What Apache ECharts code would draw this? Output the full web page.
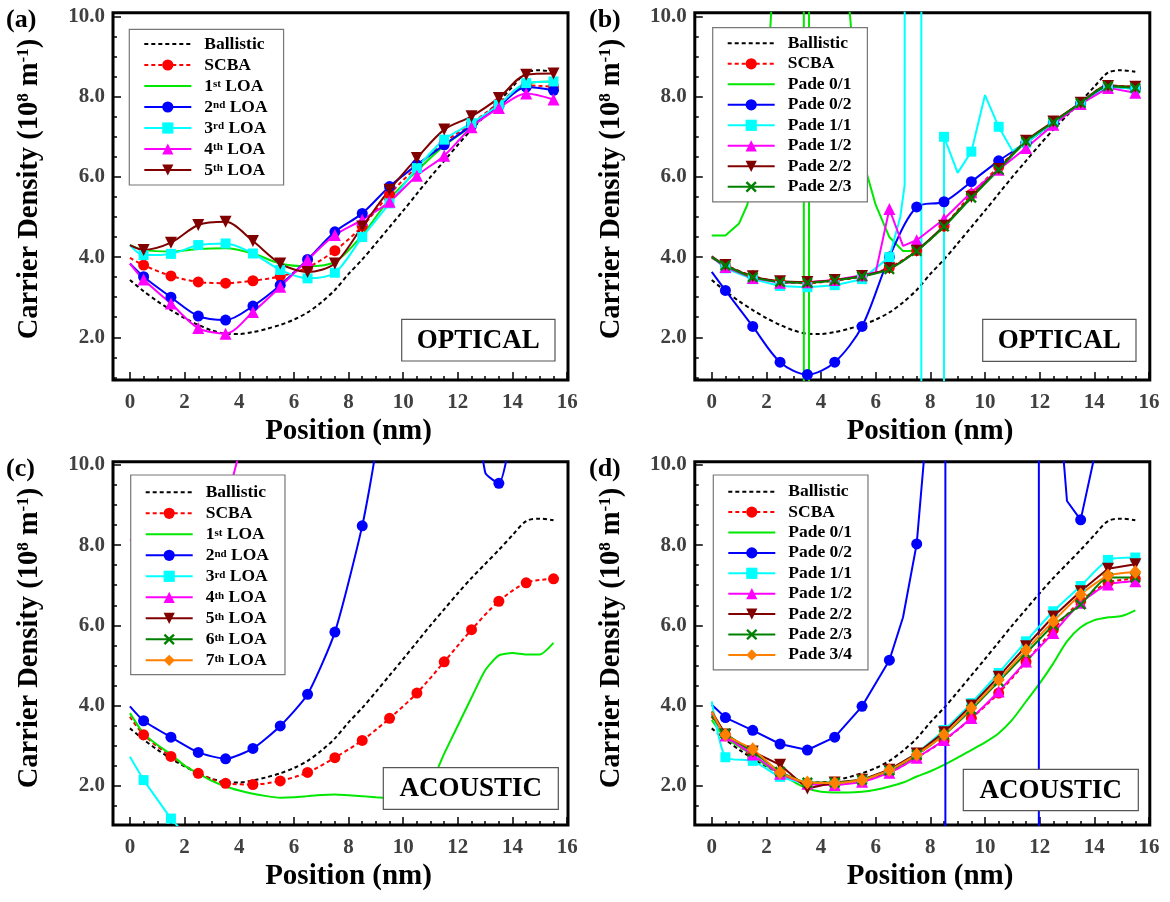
<!DOCTYPE html>
<html>
<head>
<meta charset="utf-8">
<script src="https://cdn.jsdelivr.net/npm/echarts@6/dist/echarts.min.js"></script>
<style>
  html, body { margin: 0; padding: 0; background: #fff; }
  #chart { width: 1170px; height: 902px; }
</style>
</head>
<body>
<div id="chart"></div>
<script>
// positions (nm): marker grid and the finer grid used by the smooth curves
const posM = [0, 0.5, 1.5, 2.5, 3.5, 4.5, 5.5, 6.5, 7.5, 8.5, 9.5, 10.5, 11.5, 12.5, 13.5, 14.5, 15.5];
const posF = [0, 0.5, 1, 1.5, 2, 2.5, 3, 3.5, 4, 4.5, 5, 5.5, 6, 6.5, 7, 7.5, 8, 8.5, 9, 9.5, 10, 10.5, 11, 11.5, 12, 12.5, 13, 13.5, 14, 14.5, 15, 15.5];

const xLabels = [0, 2, 4, 6, 8, 10, 12, 14, 16];
const yLabels = [2, 4, 6, 8, 10];

// ballistic (same in every panel), on posF
const ballistic = [3.43, 3.15, 2.90, 2.68, 2.48, 2.31, 2.17, 2.09, 2.08, 2.13, 2.21, 2.31, 2.44, 2.62, 2.87, 3.18, 3.58, 3.94, 4.34, 4.75, 5.16, 5.58, 6.00, 6.40, 6.80, 7.18, 7.53, 7.88, 8.25, 8.60, 8.66, 8.62];

// (a) optical, LOA orders, on posM
const optScba = [3.98, 3.80, 3.53, 3.38, 3.35, 3.41, 3.52, 3.74, 4.16, 4.77, 5.57, 6.25, 6.86, 7.33, 7.84, 8.28, 8.25];
const optLoa1 = [4.30, 4.18, 4.14, 4.20, 4.22, 4.09, 3.84, 3.77, 3.88, 4.55, 5.45, 6.15, 6.78, 7.26, 7.78, 8.32, 8.38];
const optLoa2 = [3.84, 3.51, 3.00, 2.53, 2.43, 2.78, 3.30, 3.94, 4.63, 5.09, 5.76, 6.30, 6.80, 7.28, 7.76, 8.24, 8.16];
const optLoa3 = [4.30, 4.05, 4.08, 4.30, 4.34, 4.09, 3.68, 3.47, 3.61, 4.50, 5.34, 6.22, 6.93, 7.34, 7.80, 8.34, 8.38];
const optLoa4 = [3.84, 3.44, 2.84, 2.23, 2.09, 2.63, 3.26, 3.93, 4.55, 4.93, 5.38, 6.03, 6.53, 7.24, 7.72, 8.08, 7.93];
const optLoa5 = [4.30, 4.18, 4.36, 4.80, 4.88, 4.40, 3.84, 3.63, 3.84, 4.76, 5.68, 6.47, 7.18, 7.51, 7.97, 8.55, 8.58];

// (b) optical, Pade approximants ([x, y] where the curve leaves the frame)
const optPade01 = [[0, 4.54], [0.5, 4.54], [1, 4.84], [1.3, 5.3], [1.5, 6.0], [2, 8.0], [2.5, 14], [3, 30], [3.36, 300], [3.38, -300], [3.55, -300], [3.57, 300], [4, 30], [4.5, 16], [5, 10.5], [5.5, 6.5], [6, 5.3], [6.5, 4.5], [7, 4.15], [7.5, 4.15], [8.5, 4.75], [9.5, 5.5], [10.5, 6.2], [11.5, 6.88], [12.5, 7.36], [13.5, 7.85], [14.5, 8.27], [15.5, 8.24]];
const optPade02 = [3.63, 3.17, 2.27, 1.38, 1.07, 1.38, 2.27, 4.00, 5.25, 5.38, 5.88, 6.40, 6.85, 7.35, 7.82, 8.25, 8.20];
const optPade11 = [[0, 4.0], [0.5, 3.72], [1.5, 3.45], [2.5, 3.28], [3.5, 3.25], [4.5, 3.3], [5.5, 3.45], [6.5, 4.0], [6.9, 5.0], [7.06, 5.8], [7.07, 300], [7.66, 300], [7.68, -300], [8.47, -300], [8.5, 7.0], [9, 6.1], [9.5, 6.63], [10, 8.04], [10.5, 7.25], [11, 6.65], [11.5, 6.85], [12.5, 7.35], [13.5, 7.82], [14.5, 8.25], [15.5, 8.2]];
const optPade12 = [[0, 4.0], [0.5, 3.75], [1.5, 3.48], [2.5, 3.36], [3.5, 3.37], [4.5, 3.43], [5.5, 3.55], [6, 3.62], [6.5, 5.2], [7, 4.28], [7.5, 4.42], [8.5, 4.95], [9.5, 5.62], [10.5, 6.18], [11.5, 6.72], [12.5, 7.3], [13.5, 7.82], [14.5, 8.22], [15.5, 8.1]];
const optPade22 = [4.02, 3.80, 3.52, 3.40, 3.38, 3.43, 3.53, 3.72, 4.16, 4.78, 5.50, 6.20, 6.90, 7.38, 7.85, 8.27, 8.25];
const optPade23 = [4.00, 3.79, 3.50, 3.38, 3.36, 3.42, 3.52, 3.70, 4.15, 4.76, 5.48, 6.18, 6.88, 7.36, 7.84, 8.26, 8.22];

// (c) acoustic, LOA orders
const acScba = [3.72, 3.27, 2.73, 2.31, 2.06, 2.03, 2.12, 2.33, 2.70, 3.13, 3.68, 4.31, 5.09, 5.89, 6.60, 7.06, 7.16];
const acLoa1 = [3.81, 3.30, 3.02, 2.78, 2.50, 2.30, 2.12, 1.98, 1.88, 1.80, 1.74, 1.70, 1.71, 1.74, 1.77, 1.78, 1.76, 1.74, 1.71, 1.69, 1.68, 1.72, 2.05, 2.80, 3.50, 4.20, 4.88, 5.25, 5.31, 5.27, 5.27, 5.56];
const acLoa2 = [[0, 3.98], [0.5, 3.62], [1.5, 3.21], [2.5, 2.83], [3.5, 2.67], [4.5, 2.93], [5.5, 3.49], [6.5, 4.28], [7.5, 5.83], [8.5, 8.48], [9, 10.4], [9.5, 14], [10.5, 25], [11.5, 25], [12.5, 12.7], [13, 9.81], [13.5, 9.54], [14, 11.1], [14.5, 20], [15.5, 30]];
const acLoa3 = [[0, 2.72], [0.5, 2.14], [1.5, 1.18], [2, 0.8], [2.5, -1]];
const acLoa4 = [[0, 8.14], [0.5, 8.0], [1.5, 7.8], [2.5, 8.1], [3.5, 9.0], [4, 10.3], [4.5, 14], [5, 20]];
const acLoa5 = [];
const acLoa6 = [];
const acLoa7 = [];

// (d) acoustic, Pade approximants
const acPade01 = [3.64, 3.20, 2.98, 2.76, 2.50, 2.31, 2.10, 1.93, 1.85, 1.83, 1.83, 1.85, 1.90, 1.98, 2.08, 2.23, 2.36, 2.52, 2.70, 2.89, 3.08, 3.31, 3.65, 4.10, 4.55, 5.05, 5.60, 5.95, 6.13, 6.20, 6.23, 6.37];
const acPade02 = [[0, 4.02], [0.5, 3.70], [1.5, 3.38], [2.5, 3.04], [3.5, 2.89], [4.5, 3.21], [5.5, 3.98], [6.5, 5.13], [7, 6.2], [7.5, 8.03], [8, 12], [8.5, 40], [8.54, 300], [8.56, -300], [11.96, -300], [11.98, 300], [12.5, 13.3], [13, 9.1], [13.5, 8.63], [14, 10.2], [14.5, 14], [15.5, 25]];
const acPade11 = [4.10, 2.71, 2.62, 2.22, 2.06, 2.05, 2.14, 2.40, 2.82, 3.39, 4.06, 4.81, 5.60, 6.35, 6.98, 7.63, 7.69];
const acPade12 = [3.80, 3.25, 2.78, 2.30, 2.05, 2.02, 2.10, 2.32, 2.70, 3.14, 3.69, 4.35, 5.10, 5.81, 6.56, 7.02, 7.10];
const acPade22 = [3.85, 3.28, 2.85, 2.52, 1.93, 2.08, 2.15, 2.40, 2.80, 3.33, 4.00, 4.72, 5.48, 6.22, 6.85, 7.41, 7.52];
const acPade23 = [3.75, 3.30, 2.85, 2.35, 2.08, 2.08, 2.15, 2.38, 2.77, 3.27, 3.90, 4.60, 5.30, 6.00, 6.52, 7.19, 7.19];
const acPade34 = [3.85, 3.27, 2.91, 2.33, 2.08, 2.07, 2.14, 2.39, 2.78, 3.27, 3.94, 4.64, 5.38, 6.10, 6.77, 7.24, 7.33];

const FONT = 'Liberation Serif';
const GREY = '#404040';
const cross = 'path://M0,1.5L1.5,0L5,3.5L8.5,0L10,1.5L6.5,5L10,8.5L8.5,10L5,6.5L1.5,10L0,8.5L3.5,5Z';

const STY = {
  'Ballistic': { color: '#000000', dash: [4, 3], symbol: 'none' },
  'SCBA':      { color: '#ff0000', dash: [4, 3], symbol: 'circle', size: 11 },
  '1st LOA':   { color: '#00e800', symbol: 'none' },
  '2nd LOA':   { color: '#0000ff', symbol: 'circle', size: 11 },
  '3rd LOA':   { color: '#00ffff', symbol: 'rect', size: 10 },
  '4th LOA':   { color: '#ff00ff', symbol: 'triangle', size: 12 },
  '5th LOA':   { color: '#800000', symbol: 'triangle', size: 12, rotate: 180 },
  '6th LOA':   { color: '#008000', symbol: cross, size: 11 },
  '7th LOA':   { color: '#ff8000', symbol: 'diamond', size: [12, 14] }
};
STY['Pade 0/1'] = STY['1st LOA'];
STY['Pade 0/2'] = STY['2nd LOA'];
STY['Pade 1/1'] = STY['3rd LOA'];
STY['Pade 1/2'] = STY['4th LOA'];
STY['Pade 2/2'] = STY['5th LOA'];
STY['Pade 2/3'] = STY['6th LOA'];
STY['Pade 3/4'] = STY['7th LOA'];

const cols = (xs, ys) => ys.map((y, i) => [xs[i], y]);
const isMark = x => Math.abs((x % 1) - 0.5) < 1e-9;

function line(g, name, pts, smooth) {
  const s = STY[name];
  return {
    type: 'line', name: name, xAxisIndex: 2 * g, yAxisIndex: 2 * g,
    animation: false, clip: true, silent: true,
    emphasis: { disabled: true },
    smooth: smooth || false,
    symbol: s.symbol, symbolSize: s.size || 10, symbolRotate: s.rotate || 0,
    lineStyle: { color: s.color, width: 2, type: s.dash || 'solid' },
    // plain lines: keep the legend's marker invisible
    itemStyle: { color: s.symbol === 'none' ? 'rgba(0,0,0,0)' : s.color },
    data: pts.map(p => (isMark(p[0]) ? p : { value: p, symbol: 'none' }))
  };
}

// panel frames (pixels) and axis ranges
const panels = [
  { left: 113,   top: 12.7,  width: 455, height: 367.3, ymin: 0.935, ymax: 10.095 },
  { left: 694.8, top: 12.7,  width: 455, height: 367.3, ymin: 0.935, ymax: 10.095 },
  { left: 113,   top: 461.7, width: 455, height: 363.3, ymin: 1.02,  ymax: 10.08 },
  { left: 694.8, top: 461.7, width: 455, height: 363.3, ymin: 1.02,  ymax: 10.08 }
];
const XMIN = -0.62, XMAX = 16.03;

const xMinor = [], yMinor = [];
for (let v = 0; v <= 16; v += 0.5) xMinor.push(v);
for (let v = 1; v <= 10; v += 0.5) yMinor.push(v);

const grid = [], xAxis = [], yAxis = [];
const labelStyle = { color: GREY, fontFamily: FONT, fontWeight: 'bold', fontSize: 21 };
const tickLine = { color: '#000', width: 1.5 };
const noLine = { show: false, onZero: false };
panels.forEach((p, g) => {
  grid.push({ left: p.left, top: p.top, width: p.width, height: p.height, show: true,
    borderColor: '#000', borderWidth: 3, backgroundColor: 'transparent', containLabel: false, outerBoundsMode: 'none' });
  xAxis.push({ gridIndex: g, type: 'value', min: XMIN, max: XMAX, position: 'bottom',
    axisLine: noLine, splitLine: { show: false },
    axisTick: { inside: true, length: 8, customValues: xLabels, lineStyle: tickLine },
    axisLabel: Object.assign({ customValues: xLabels, margin: 12, formatter: v => String(v) }, labelStyle) });
  xAxis.push({ gridIndex: g, type: 'value', min: XMIN, max: XMAX, position: 'bottom',
    axisLine: noLine, splitLine: { show: false }, axisLabel: { show: false },
    axisTick: { inside: true, length: 4, customValues: xMinor, lineStyle: tickLine } });
  yAxis.push({ gridIndex: g, type: 'value', min: p.ymin, max: p.ymax, position: 'left',
    axisLine: noLine, splitLine: { show: false },
    axisTick: { inside: true, length: 8, customValues: yLabels, lineStyle: tickLine },
    axisLabel: Object.assign({ customValues: yLabels, margin: 8, formatter: v => v.toFixed(1) }, labelStyle) });
  yAxis.push({ gridIndex: g, type: 'value', min: p.ymin, max: p.ymax, position: 'left',
    axisLine: noLine, splitLine: { show: false }, axisLabel: { show: false },
    axisTick: { inside: true, length: 4, customValues: yMinor, lineStyle: tickLine } });
});

const series = [];
const ball = cols(posF, ballistic);
// (a)
series.push(line(0, 'Ballistic', ball, 0.3));
series.push(line(0, 'SCBA', cols(posM, optScba), 0.3));
series.push(line(0, '1st LOA', cols(posM, optLoa1), 0.3));
series.push(line(0, '2nd LOA', cols(posM, optLoa2), 0.3));
series.push(line(0, '3rd LOA', cols(posM, optLoa3), 0.3));
series.push(line(0, '4th LOA', cols(posM, optLoa4), 0.3));
series.push(line(0, '5th LOA', cols(posM, optLoa5), 0.3));
// (b)
series.push(line(1, 'Ballistic', ball, 0.3));
series.push(line(1, 'SCBA', cols(posM, optScba), 0.3));
series.push(line(1, 'Pade 0/1', optPade01));
series.push(line(1, 'Pade 0/2', cols(posM, optPade02), 0.3));
series.push(line(1, 'Pade 1/1', optPade11));
series.push(line(1, 'Pade 1/2', optPade12));
series.push(line(1, 'Pade 2/2', cols(posM, optPade22), 0.3));
series.push(line(1, 'Pade 2/3', cols(posM, optPade23), 0.3));
// (c)
series.push(line(2, 'Ballistic', ball, 0.3));
series.push(line(2, 'SCBA', cols(posM, acScba), 0.3));
series.push(line(2, '1st LOA', cols(posF, acLoa1), 0.2));
series.push(line(2, '2nd LOA', acLoa2, 0.2));
series.push(line(2, '3rd LOA', acLoa3));
series.push(line(2, '4th LOA', acLoa4));
series.push(line(2, '5th LOA', acLoa5));
series.push(line(2, '6th LOA', acLoa6));
series.push(line(2, '7th LOA', acLoa7));
// (d)
series.push(line(3, 'Ballistic', ball, 0.3));
series.push(line(3, 'SCBA', cols(posM, acScba), 0.3));
series.push(line(3, 'Pade 0/1', cols(posF, acPade01), 0.3));
series.push(line(3, 'Pade 0/2', acPade02));
series.push(line(3, 'Pade 1/1', cols(posM, acPade11), 0.2));
series.push(line(3, 'Pade 1/2', cols(posM, acPade12), 0.2));
series.push(line(3, 'Pade 2/2', cols(posM, acPade22)));
series.push(line(3, 'Pade 2/3', cols(posM, acPade23), 0.2));
series.push(line(3, 'Pade 3/4', cols(posM, acPade34), 0.2));

// legend text as rich tokens so every row gets the same line height
function legendText(n) {
  const m = n.match(/^(\d)(st|nd|rd|th)(.*)$/);
  return m ? '{n|' + m[1] + '}{s|' + m[2] + '}{n|' + m[3] + '}' : '{n|' + n + '}';
}
function legend(left, top, names, gap, padding) {
  return {
    orient: 'vertical', left: left, top: top, data: names, selectedMode: false,
    itemWidth: 47, itemHeight: 14, itemGap: gap, padding: padding,
    backgroundColor: '#fff', borderColor: '#777', borderWidth: 1.2, z: 20,
    formatter: legendText,
    textStyle: { color: '#000', fontFamily: FONT, fontWeight: 'bold', fontSize: 17.5, lineHeight: 14,
      padding: [0, 0, 0, 8],
      rich: {
        n: { color: '#000', fontFamily: FONT, fontWeight: 'bold', fontSize: 17.5, lineHeight: 14 },
        s: { color: '#000', fontFamily: FONT, fontWeight: 'bold', fontSize: 11, lineHeight: 8, verticalAlign: 'top' }
      } }
  };
}
const legends = [
  legend(129.3, 29.3, ['Ballistic', 'SCBA', '1st LOA', '2nd LOA', '3rd LOA', '4th LOA', '5th LOA'], 3, [5.7, 16, 6, 14]),
  legend(712.7, 27.7, ['Ballistic', 'SCBA', 'Pade 0/1', 'Pade 0/2', 'Pade 1/1', 'Pade 1/2', 'Pade 2/2', 'Pade 2/3'], 2.5, [6.6, 16, 6, 14]),
  legend(130.7, 475, ['Ballistic', 'SCBA', '1st LOA', '2nd LOA', '3rd LOA', '4th LOA', '5th LOA', '6th LOA', '7th LOA'], 3, [8.3, 16, 5.3, 14]),
  legend(713.3, 475, ['Ballistic', 'SCBA', 'Pade 0/1', 'Pade 0/2', 'Pade 1/1', 'Pade 1/2', 'Pade 2/2', 'Pade 2/3', 'Pade 3/4'], 2.4, [7.7, 16, 6, 14])
];

const graphic = [];
const tag = (text, x, y) => ({ type: 'text', x: x, y: y, z: 100,
  style: { text: text, fill: '#000', fontFamily: FONT, fontWeight: 'bold', fontSize: 26, align: 'left', verticalAlign: 'top' } });
graphic.push(tag('(a)', 6, 7), tag('(b)', 589, 7), tag('(c)', 6, 456), tag('(d)', 589, 456));

const yTitle = (x, y) => ({ type: 'text', x: x, y: y, rotation: Math.PI / 2, z: 100,
  style: { text: 'Carrier Density (10{p|8} m{p|-1})', fill: '#000', fontFamily: FONT, fontWeight: 'bold', fontSize: 28.5,
    align: 'center', verticalAlign: 'middle',
    rich: { p: { fill: '#000', fontFamily: FONT, fontWeight: 'bold', fontSize: 17, lineHeight: 15, verticalAlign: 'top' } } } });
graphic.push(yTitle(30, 189), yTitle(612, 189), yTitle(30, 638), yTitle(612, 638));

const xTitle = (x, y) => ({ type: 'text', x: x, y: y, z: 100,
  style: { text: 'Position (nm)', fill: '#000', fontFamily: FONT, fontWeight: 'bold', fontSize: 29, align: 'center', verticalAlign: 'middle' } });
graphic.push(xTitle(348.5, 432), xTitle(930, 432), xTitle(348.5, 877), xTitle(930, 877));

const box = (text, x, y, w, h) => [
  { type: 'rect', z: 100, shape: { x: x, y: y, width: w, height: h }, style: { fill: '#fff', stroke: '#555', lineWidth: 1.2 } },
  { type: 'text', z: 101, x: x + w / 2, y: y + h / 2 + 1,
    style: { text: text, fill: '#000', fontFamily: FONT, fontWeight: 'bold', fontSize: 27, align: 'center', verticalAlign: 'middle' } }
];
graphic.push(...box('OPTICAL', 401.7, 319.3, 153.3, 41.7));
graphic.push(...box('OPTICAL', 982.7, 319.3, 153.3, 42));
graphic.push(...box('ACOUSTIC', 383.3, 767.7, 175, 41.6));
graphic.push(...box('ACOUSTIC', 963.3, 769.3, 175, 41.4));

const chart = echarts.init(document.getElementById('chart'));
chart.setOption({
  backgroundColor: '#fff',
  animation: false,
  grid: grid, xAxis: xAxis, yAxis: yAxis,
  legend: legends,
  series: series,
  graphic: graphic
});
</script>
</body>
</html>
